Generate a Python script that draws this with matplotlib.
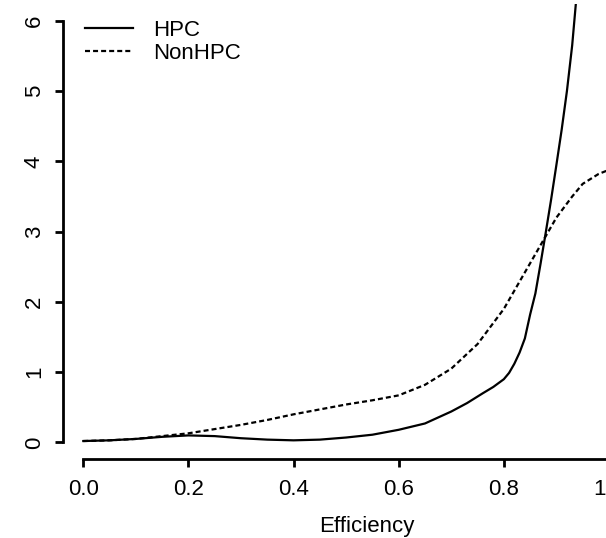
import matplotlib
matplotlib.use("Agg")
import matplotlib.pyplot as plt

plt.rcParams["font.family"] = ["Liberation Sans", "DejaVu Sans"]
plt.rcParams["lines.scale_dashes"] = False

# density estimates
hpc_x = [0.0, 0.05, 0.1, 0.15, 0.2, 0.25, 0.3, 0.35, 0.4, 0.45, 0.5, 0.55,
         0.6, 0.65, 0.7, 0.73, 0.76, 0.78, 0.8, 0.81, 0.82, 0.83, 0.84,
         0.85, 0.86, 0.87, 0.88, 0.89, 0.9, 0.91, 0.92, 0.93, 0.94]
hpc_y = [0.02, 0.03, 0.05, 0.08, 0.10, 0.09, 0.06, 0.04, 0.03, 0.04, 0.07,
         0.11, 0.18, 0.27, 0.44, 0.56, 0.70, 0.79, 0.90, 0.99, 1.12, 1.28,
         1.48, 1.82, 2.12, 2.55, 3.00, 3.46, 3.95, 4.45, 5.00, 5.65, 6.50]

nonhpc_x = [0.0, 0.05, 0.1, 0.15, 0.2, 0.25, 0.3, 0.35, 0.4, 0.45, 0.5, 0.55,
            0.6, 0.65, 0.7, 0.75, 0.8, 0.85, 0.9, 0.93, 0.95, 0.98, 1.0]
nonhpc_y = [0.02, 0.03, 0.05, 0.09, 0.13, 0.19, 0.25, 0.32, 0.40, 0.47, 0.54,
            0.60, 0.67, 0.82, 1.05, 1.40, 1.90, 2.55, 3.20, 3.50, 3.68, 3.82,
            3.88]

x_ticks = [0.0, 0.2, 0.4, 0.6, 0.8, 1.0]
x_tick_labels = ["0.0", "0.2", "0.4", "0.6", "0.8", "1.0"]
y_ticks = [0, 1, 2, 3, 4, 5, 6]

W, H = 606, 538
fig = plt.figure(figsize=(W / 100, H / 100), dpi=100)
ax = fig.add_axes([63 / W, (H - 459.3) / H, (671 - 63) / W, (459.3 - 4) / H])

ax.plot(hpc_x, hpc_y, color="black", lw=1.6, label="HPC")
ax.plot(nonhpc_x, nonhpc_y, color="black", lw=1.6, dashes=(3.6, 2.2),
        label="NonHPC")

ax.set_xlim(-0.0386, 1.118)
ax.set_ylim(-0.24, 6.24)

ax.spines["top"].set_visible(False)
ax.spines["right"].set_visible(False)
ax.spines["left"].set_bounds(0, 6)
ax.spines["bottom"].set_bounds(0, 1)
for s in ("left", "bottom"):
    ax.spines[s].set_linewidth(2)

ax.set_xticks(x_ticks)
ax.set_xticklabels(x_tick_labels)
ax.set_yticks(y_ticks)
ax.tick_params(length=6, width=2, labelsize=16, pad=7, colors="black")
ax.tick_params(axis="x", pad=8)
for lab in ax.get_yticklabels():
    lab.set_rotation(90)
    lab.set_verticalalignment("center")

ax.set_xlabel("Efficiency", fontsize=16, labelpad=11.5)

ax.legend(loc="upper left", bbox_to_anchor=(85 / W, 1 - 20 / H),
          bbox_transform=fig.transFigure, frameon=False, fontsize=16,
          handlelength=2.16, handletextpad=0.9, labelspacing=0.1,
          borderpad=0, borderaxespad=0)

fig.savefig("out.png", dpi=100)
plt.close()
